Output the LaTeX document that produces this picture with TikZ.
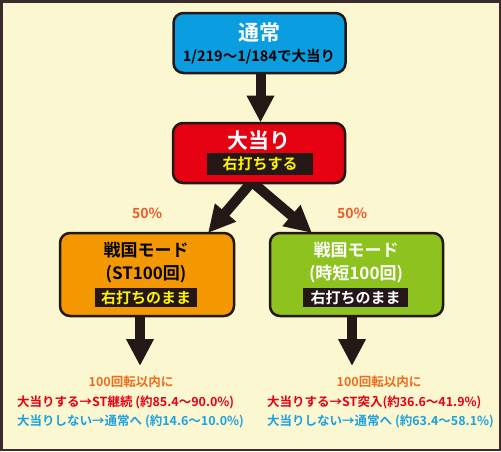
\documentclass[tikz,border=0pt]{standalone}
\usepackage{fontspec}
\setmainfont{Noto Sans CJK JP}[BoldFont={Noto Sans CJK JP Bold}]
\usetikzlibrary{arrows.meta}
\definecolor{bgc}{HTML}{FBF7D0}
\definecolor{framec}{HTML}{3B2B2B}
\definecolor{bluec}{HTML}{0A9DE0}
\definecolor{redc}{HTML}{E50012}
\definecolor{orangec}{HTML}{F39800}
\definecolor{greenc}{HTML}{8DC21F}
\definecolor{darkc}{HTML}{231815}
\definecolor{yellowc}{HTML}{FFF100}
\definecolor{pctc}{HTML}{EE5A2A}
\definecolor{otxt}{HTML}{ED6D1F}
\definecolor{rtxt}{HTML}{E60012}
\definecolor{btxt}{HTML}{1DA1E2}
\tikzset{
  box/.style={draw=darkc, line width=2.5pt, rounded corners=10pt, inner sep=0pt},
  strip/.style={fill=darkc, inner sep=0pt},
  bigarrow/.style={draw=darkc, line width=10pt, -{Triangle[width=26pt,length=27pt]}},
  txt/.style={inner sep=0pt, font=\bfseries},
}
\begin{document}
\begin{tikzpicture}[x=1pt,y=-1pt]
\useasboundingbox (0,0) rectangle (501,451);
\fill[bgc] (0,0) rectangle (501,451);
\draw[framec, line width=2.5pt] (1.25,1.25) rectangle (499.75,449.75);

% diagonal arrows (start hidden behind the red box)
\coordinate (ls) at (262,170);
\coordinate (rs) at (238,170);
\coordinate (lt) at (208,233);
\coordinate (rt) at (312,233);
\draw[bigarrow] (ls) -- (lt);
\draw[bigarrow] (rs) -- (rt);

% boxes
\node[box, fill=bluec, minimum width=172pt, minimum height=60pt] (normal) at (259.5,43) {};
\node[box, fill=redc, minimum width=172pt, minimum height=60pt] (hit) at (259,153) {};
\node[box, fill=orangec, minimum width=174pt, minimum height=83pt] (st) at (147,274.5) {};
\node[box, fill=greenc, minimum width=173pt, minimum height=83pt] (jitan) at (356.5,274.5) {};

% vertical arrows
\coordinate (na) at (260.5,73);
\coordinate (nt) at (260.5,122.5);
\draw[bigarrow] (na) -- (nt);
\coordinate (la) at (140,316);
\coordinate (ltip) at (140,366);
\coordinate (ra) at (352,316);
\coordinate (rtip) at (352,366);
\draw[bigarrow] (la) -- (ltip);
\draw[bigarrow] (ra) -- (rtip);

% texts in blue box
\node[txt, text=white, font=\bfseries\fontsize{21}{21}\selectfont] (t1) at (259,33) {通常};
\node[txt, text=black, font=\bfseries\fontsize{14.5}{14.5}\selectfont] (t2) at (259,57) {1/219～1/184で大当り};

% red box
\node[txt, text=white, font=\bfseries\fontsize{21}{21}\selectfont] (t3) at (259,141) {大当り};
\node[strip, minimum width=106pt, minimum height=22pt] (s1) at (260,164) {};
\node[txt, text=yellowc, font=\bfseries\fontsize{15}{15}\selectfont] at (s1) {右打ちする};

% orange box
\node[txt, text=black, font=\bfseries\fontsize{17}{17}\selectfont] (t4) at (146,250) {戦国モード};
\node[txt, text=black, font=\bfseries\fontsize{17}{17}\selectfont] (t5) at (146,274) {(ST100回)};
\node[strip, minimum width=102pt, minimum height=19pt] (s2) at (146,297.5) {};
\node[txt, text=yellowc, font=\bfseries\fontsize{15}{15}\selectfont] at (s2) {右打ちのまま};

% green box
\node[txt, text=white, font=\bfseries\fontsize{17}{17}\selectfont] (t6) at (356,250) {戦国モード};
\node[txt, text=white, font=\bfseries\fontsize{17}{17}\selectfont] (t7) at (356,274) {(時短100回)};
\node[strip, minimum width=105pt, minimum height=19pt] (s3) at (355.5,297.5) {};
\node[txt, text=white, font=\bfseries\fontsize{15}{15}\selectfont] at (s3) {右打ちのまま};

% percentages
\node[txt, text=pctc, font=\bfseries\fontsize{14}{14}\selectfont] (p1) at (147,213) {50\%};
\node[txt, text=pctc, font=\bfseries\fontsize{14}{14}\selectfont] (p2) at (352,213) {50\%};

% bottom texts
\node[txt, text=otxt, font=\bfseries\fontsize{12.5}{12.5}\selectfont] (b1) at (131,382) {100回転以内に};
\node[txt, text=rtxt, font=\bfseries\fontsize{12.5}{12.5}\selectfont, anchor=west] (b2) at (17,402) {大当りする→ST継続 (約85.4～90.0\%)};
\node[txt, text=btxt, font=\bfseries\fontsize{12.5}{12.5}\selectfont, anchor=west] (b3) at (17,421) {大当りしない→通常へ (約14.6～10.0\%)};
\node[txt, text=otxt, font=\bfseries\fontsize{12.5}{12.5}\selectfont] (b4) at (379,382) {100回転以内に};
\node[txt, text=rtxt, font=\bfseries\fontsize{12.5}{12.5}\selectfont, anchor=west] (b5) at (267,402) {大当りする→ST突入(約36.6～41.9\%)};
\node[txt, text=btxt, font=\bfseries\fontsize{12.5}{12.5}\selectfont, anchor=west] (b6) at (267,421) {大当りしない→通常へ (約63.4～58.1\%)};
\end{tikzpicture}
\end{document}
